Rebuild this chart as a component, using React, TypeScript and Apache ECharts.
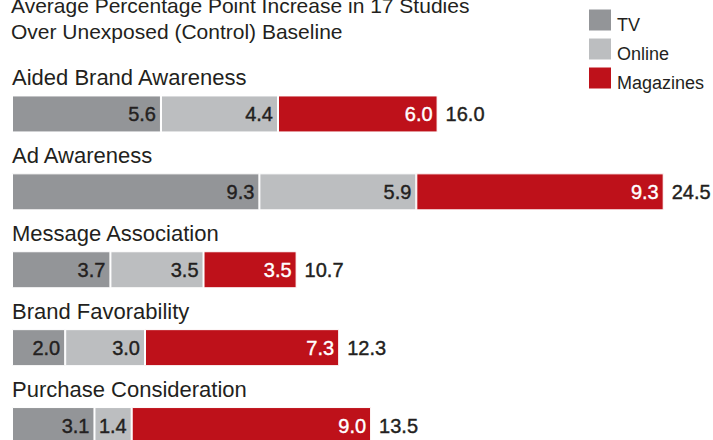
import React, { useEffect, useRef } from "react";
import * as echarts from "echarts";

const categories = [
  "Aided Brand Awareness",
  "Ad Awareness",
  "Message Association",
  "Brand Favorability",
  "Purchase Consideration",
];
const tvValues = [5.6, 9.3, 3.7, 2.0, 3.1];
const onlineValues = [4.4, 5.9, 3.5, 3.0, 1.4];
const magazineValues = [6.0, 9.3, 3.5, 7.3, 9.0];
const totals = [16.0, 24.5, 10.7, 12.3, 13.5];
const titleLines = [
  "Average Percentage Point Increase in 17 Studies",
  "Over Unexposed (Control) Baseline",
];

const FONT = "'Liberation Sans', Arial, Helvetica, sans-serif";
const INK = "#231f20";

export default function App() {
  const ref = useRef<HTMLDivElement>(null);
  useEffect(() => {
    document.body.style.margin = "0";
    if (!ref.current) return;
    const chart = echarts.init(ref.current, undefined, { renderer: "svg" });
    const segLabel = (color: string) => ({
      show: true,
      position: "insideRight",
      distance: 5,
      color,
      fontSize: 20,
      fontFamily: FONT,
      textBorderColor: color,
      textBorderWidth: 0.4,
      formatter: (p: any) => Number(p.value).toFixed(1),
    });
    const common = {
      type: "bar",
      stack: "total",
      barWidth: 37,
      itemStyle: { borderColor: "#ffffff", borderWidth: 1 },
    };
    chart.setOption({
      animation: false,
      backgroundColor: "#ffffff",
      textStyle: { fontFamily: FONT },
      title: {
        text: titleLines.join("\n"),
        left: 6,
        top: -13,
        textStyle: {
          fontSize: 21,
          lineHeight: 26,
          fontWeight: "normal",
          color: INK,
          fontFamily: FONT,
        },
      },
      legend: {
        data: ["TV", "Online", "Magazines"],
        orient: "vertical",
        left: 582,
        top: 1,
        itemWidth: 24,
        itemHeight: 23,
        itemGap: 1,
        icon: "rect",
        selectedMode: false,
        formatter: "{a|{name}}",
        textStyle: {
          color: INK,
          fontFamily: FONT,
          rich: {
            a: {
              fontSize: 18,
              color: INK,
              fontFamily: FONT,
              padding: [10, 0, 0, 0],
              lineHeight: 16,
            },
          },
        },
      },
      grid: {
        left: 12,
        top: 75,
        width: 665,
        height: 389.5,
        outerBoundsMode: "none",
        containLabel: false,
      },
      xAxis: {
        type: "value",
        min: 0,
        max: 25,
        show: false,
      },
      yAxis: {
        type: "category",
        data: categories,
        inverse: true,
        axisLine: { show: false },
        axisTick: { show: false },
        splitLine: { show: false },
        axisLabel: {
          inside: true,
          margin: 0,
          align: "left",
          verticalAlign: "bottom",
          lineHeight: 72,
          fontSize: 22,
          color: INK,
          fontFamily: FONT,
        },
        z: 10,
      },
      series: [
        {
          ...common,
          name: "TV",
          data: tvValues,
          itemStyle: { ...common.itemStyle, color: "#939598" },
          label: segLabel(INK),
        },
        {
          ...common,
          name: "Online",
          data: onlineValues,
          itemStyle: { ...common.itemStyle, color: "#bcbec0" },
          label: segLabel(INK),
        },
        {
          ...common,
          name: "Magazines",
          data: magazineValues,
          itemStyle: { ...common.itemStyle, color: "#be111a" },
          label: segLabel("#ffffff"),
        },
        {
          type: "bar",
          stack: "total",
          barWidth: 37,
          name: "Total",
          data: totals.map(() => 0),
          itemStyle: { color: "transparent" },
          label: {
            show: true,
            position: "right",
            distance: 8,
            color: INK,
            fontSize: 20,
            fontFamily: FONT,
            textBorderColor: INK,
            textBorderWidth: 0.4,
            formatter: (p: any) => totals[p.dataIndex].toFixed(1),
          },
        },
      ],
    });
    return () => chart.dispose();
  }, []);
  return <div ref={ref} style={{ width: 713, height: 440 }} />;
}
